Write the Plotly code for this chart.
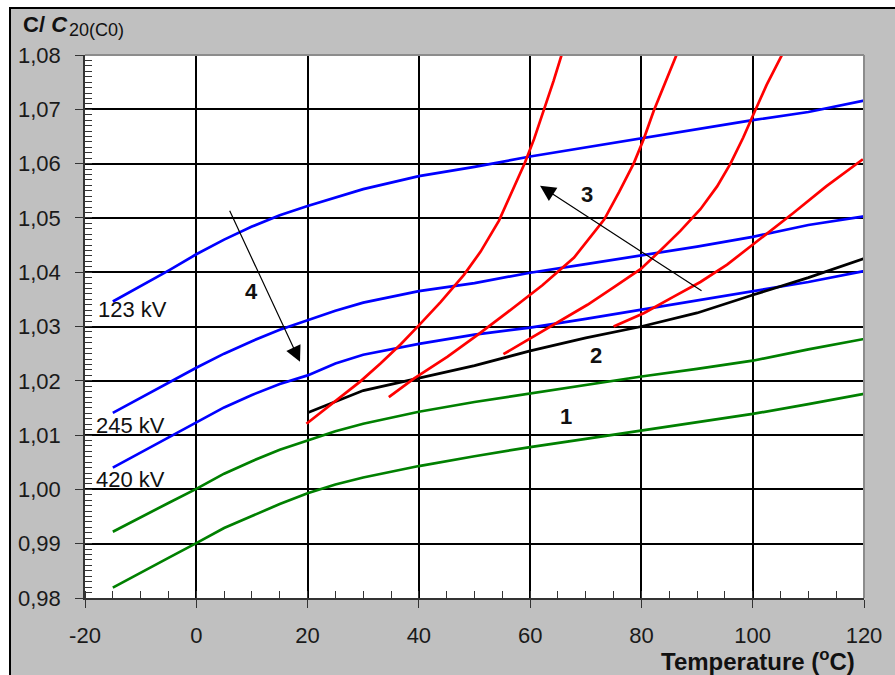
import plotly.graph_objects as go

# Temperature grid shared by the bushing curves (deg C)
t_full = [-15, -10, -5, 0, 5, 10, 15, 20, 25, 30, 40, 50, 60, 70, 80, 90, 100, 110, 120]

# Capacitance ratio C/C20 for the three voltage classes (blue)
c_123kv = [1.0346, 1.0374, 1.0403, 1.0433, 1.0460, 1.0484, 1.0505, 1.0522, 1.0538, 1.0553,
           1.0577, 1.0594, 1.0613, 1.0630, 1.0647, 1.0663, 1.0680, 1.0695, 1.0716]
c_245kv = [1.0141, 1.0169, 1.0196, 1.0224, 1.0250, 1.0273, 1.0294, 1.0311, 1.0329, 1.0344,
           1.0365, 1.0380, 1.0399, 1.0415, 1.0431, 1.0447, 1.0465, 1.0487, 1.0503]
c_420kv = [1.0040, 1.0068, 1.0096, 1.0123, 1.0151, 1.0174, 1.0194, 1.0210, 1.0232, 1.0248,
           1.0268, 1.0285, 1.0298, 1.0314, 1.0331, 1.0347, 1.0365, 1.0382, 1.0402]

# Group 1 (green)
c_green_a = [0.9922, 0.9949, 0.9975, 1.0001, 1.0029, 1.0052, 1.0073, 1.0090, 1.0107, 1.0121,
             1.0143, 1.0161, 1.0177, 1.0193, 1.0208, 1.0222, 1.0237, 1.0258, 1.0277]
c_green_b = [0.9819, 0.9847, 0.9874, 0.9901, 0.9929, 0.9951, 0.9973, 0.9993, 1.0009, 1.0022,
             1.0043, 1.0061, 1.0078, 1.0093, 1.0108, 1.0123, 1.0139, 1.0157, 1.0176]

# Group 2 (black)
t_black = [20, 25, 30, 40, 50, 60, 70, 80, 90, 100, 110, 120]
c_black = [1.0141, 1.0161, 1.0182, 1.0205, 1.0228, 1.0255, 1.0279, 1.0300, 1.0325, 1.0358,
           1.0390, 1.0425]

# Group 3 (red), one curve per starting temperature
t_red1 = [19.8, 24.7, 29.5, 33.1, 36.7, 40.0, 43.9, 48.1, 51.1, 54.4, 57.1, 59.0, 60.7, 62.5, 64.2, 65.8]
c_red1 = [1.0121, 1.0160, 1.0199, 1.0232, 1.0267, 1.0302, 1.0345, 1.0395, 1.0438, 1.0495,
          1.0555, 1.0600, 1.0645, 1.0698, 1.0752, 1.0805]
t_red2 = [34.6, 39.1, 45.1, 50.5, 55.9, 62.2, 67.9, 73.3, 76.0, 78.6, 80.4, 82.2, 84.3, 86.3]
c_red2 = [1.0170, 1.0204, 1.0244, 1.0284, 1.0326, 1.0376, 1.0427, 1.0497, 1.0548, 1.0600,
          1.0645, 1.0697, 1.0750, 1.0800]
t_red3 = [55.2, 64.9, 70.3, 75.0, 79.9, 83.4, 87.0, 90.6, 93.6, 96.0, 98.3, 100.1, 102.5, 105.5]
c_red3 = [1.0249, 1.0307, 1.0340, 1.0372, 1.0406, 1.0440, 1.0476, 1.0516, 1.0558, 1.0600,
          1.0648, 1.0690, 1.0745, 1.0805]
t_red4 = [75.0, 80.5, 85.8, 90.6, 95.4, 100.1, 107.3, 113.2, 119.8]
c_red4 = [1.0300, 1.0325, 1.0355, 1.0382, 1.0414, 1.0451, 1.0509, 1.0558, 1.0608]

# Axis ticks
x_ticks = [-20, 0, 20, 40, 60, 80, 100, 120]
x_tick_text = ["-20", "0", "20", "40", "60", "80", "100", "120"]
y_ticks = [0.98, 0.99, 1.00, 1.01, 1.02, 1.03, 1.04, 1.05, 1.06, 1.07, 1.08]
y_tick_text = ["0,98", "0,99", "1,00", "1,01", "1,02", "1,03", "1,04", "1,05", "1,06", "1,07", "1,08"]

FONT = "Liberation Sans, Arial, sans-serif"
W, H = 895, 675
ML, MR, MT, MB = 85, 31, 55, 77
PW, PH = W - ML - MR, H - MT - MB


def px(xp):
    return (xp - ML) / PW


def py(yp):
    return (H - MB - yp) / PH


series = [
    (t_full, c_123kv, "#0000ff"),
    (t_full, c_245kv, "#0000ff"),
    (t_full, c_420kv, "#0000ff"),
    (t_full, c_green_a, "#008000"),
    (t_full, c_green_b, "#008000"),
    (t_black, c_black, "#000000"),
    (t_red1, c_red1, "#ff0000"),
    (t_red2, c_red2, "#ff0000"),
    (t_red3, c_red3, "#ff0000"),
    (t_red4, c_red4, "#ff0000"),
]

fig = go.Figure()
for xs, ys, col in series:
    fig.add_trace(go.Scatter(x=xs, y=ys, mode="lines",
                             line=dict(color=col, width=2.7),
                             showlegend=False, hoverinfo="skip"))

axis_common = dict(
    showgrid=True, gridcolor="#000000", gridwidth=1.5,
    showline=True, linecolor="#333333", linewidth=1.5,
    ticks="outside", ticklen=8, tickcolor="#333333", tickwidth=1,
    tickfont=dict(family=FONT, size=22, color="#1a1a1a"),
    zeroline=False, tickmode="array",
)

fig.update_xaxes(range=[-20, 120], tickvals=x_ticks, ticktext=x_tick_text,
                 ticklabelstandoff=9,
                 minor=dict(ticks="inside", ticklen=7, tickcolor="#333333", tickwidth=1,
                            tickmode="linear", tick0=-20, dtick=5, showgrid=False),
                 **axis_common)
fig.update_yaxes(range=[0.98, 1.08], tickvals=y_ticks, ticktext=y_tick_text,
                 ticklabelstandoff=10,
                 minor=dict(ticks="inside", ticklen=7, tickcolor="#333333", tickwidth=1,
                            tickmode="linear", tick0=0.98, dtick=0.001, showgrid=False),
                 **axis_common)

shapes = [
    # grey frame with black border
    dict(type="rect", xref="paper", yref="paper", layer="below",
         x0=px(10), x1=px(905), y0=py(8), y1=py(690),
         fillcolor="#c0c0c0", line=dict(color="#000000", width=2)),
    # white plotting area
    dict(type="rect", xref="paper", yref="paper", layer="below",
         x0=0, x1=1, y0=0, y1=1, fillcolor="#ffffff", line=dict(width=0)),
    # grey top and right edges of the plotting area
    dict(type="line", xref="paper", yref="paper", x0=0, x1=1, y0=1, y1=1,
         line=dict(color="#8c8c8c", width=2)),
    dict(type="line", xref="paper", yref="paper", x0=1, x1=1, y0=0, y1=1,
         line=dict(color="#8c8c8c", width=2)),
]

annotations = [
    dict(xref="paper", yref="paper", x=px(21), y=py(24), xanchor="left", yanchor="middle",
         text="<b>C/ <i>C</i></b>", showarrow=False,
         font=dict(family=FONT, size=22, color="#111111")),
    dict(xref="paper", yref="paper", x=px(67), y=py(30), xanchor="left", yanchor="middle",
         text="20(C0)", showarrow=False,
         font=dict(family=FONT, size=18, color="#111111")),
    dict(xref="paper", yref="paper", x=px(857), y=py(660), xanchor="right", yanchor="middle",
         text="<b>Temperature (<sup>o</sup>C)</b>", showarrow=False,
         font=dict(family=FONT, size=24, color="#111111")),
    dict(x=-18.0, y=1.0332, xanchor="left", yanchor="middle", text="123 kV", showarrow=False,
         font=dict(family=FONT, size=22, color="#111111")),
    dict(x=-18.4, y=1.0117, xanchor="left", yanchor="middle", text="245 kV", showarrow=False,
         font=dict(family=FONT, size=22, color="#111111")),
    dict(x=-18.4, y=1.0019, xanchor="left", yanchor="middle", text="420 kV", showarrow=False,
         font=dict(family=FONT, size=22, color="#111111")),
    dict(x=10.0, y=1.0364, text="<b>4</b>", showarrow=False,
         font=dict(family=FONT, size=22, color="#111111")),
    dict(x=70.2, y=1.0544, text="<b>3</b>", showarrow=False,
         font=dict(family=FONT, size=22, color="#111111")),
    dict(x=71.8, y=1.0246, text="<b>2</b>", showarrow=False,
         font=dict(family=FONT, size=22, color="#111111")),
    dict(x=66.4, y=1.0135, text="<b>1</b>", showarrow=False,
         font=dict(family=FONT, size=22, color="#111111")),
    # trend arrows
    dict(x=18.64, y=1.0235, ax=5.88, ay=1.0516, axref="x", ayref="y", text="",
         showarrow=True, arrowhead=2, arrowsize=2.6, arrowwidth=1.2, arrowcolor="#000000"),
    dict(x=61.78, y=1.0559, ax=91.07, ay=1.0364, axref="x", ayref="y", text="",
         showarrow=True, arrowhead=2, arrowsize=2.6, arrowwidth=1.2, arrowcolor="#000000"),
]

fig.update_layout(
    width=W, height=H,
    margin=dict(l=ML, r=MR, t=MT, b=MB),
    paper_bgcolor="#ffffff", plot_bgcolor="#ffffff",
    shapes=shapes, annotations=annotations,
    font=dict(family=FONT),
)

fig.write_html("out.html")
